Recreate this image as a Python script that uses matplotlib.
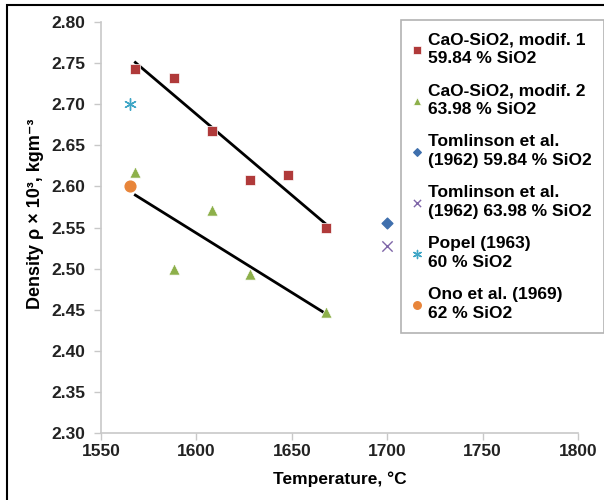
import matplotlib
matplotlib.use("Agg")
import matplotlib.pyplot as plt
import numpy as np
from matplotlib.patches import Rectangle

plt.rcParams['font.family'] = ['Liberation Sans', 'DejaVu Sans']

# Data
t_mod1 = [1568, 1588, 1608, 1628, 1648, 1668]
rho_mod1 = [2.743, 2.732, 2.667, 2.608, 2.614, 2.550]
t_mod2 = [1568, 1588, 1608, 1628, 1668]
rho_mod2 = [2.618, 2.500, 2.571, 2.493, 2.447]
t_tom1 = [1700]
rho_tom1 = [2.556]
t_tom2 = [1700]
rho_tom2 = [2.527]
t_popel = [1565]
rho_popel = [2.700]
t_ono = [1565]
rho_ono = [2.600]

labels = ["CaO-SiO2, modif. 1\n59.84 % SiO2",
          "CaO-SiO2, modif. 2\n63.98 % SiO2",
          "Tomlinson et al.\n(1962) 59.84 % SiO2",
          "Tomlinson et al.\n(1962) 63.98 % SiO2",
          "Popel (1963)\n60 % SiO2",
          "Ono et al. (1969)\n62 % SiO2"]
xticks = [1550, 1600, 1650, 1700, 1750, 1800]
yticks = [2.30, 2.35, 2.40, 2.45, 2.50, 2.55, 2.60, 2.65, 2.70, 2.75, 2.80]

fig = plt.figure(figsize=(6.04, 5.00), dpi=100)
ax = fig.add_axes([101/604, 1-433/500, (578-101)/604, (433-22)/500])

h1 = ax.scatter(t_mod1, rho_mod1, marker='s', s=60, color='#B03A3A', edgecolors='white', linewidths=0.5, zorder=3)
h2 = ax.scatter(t_mod2, rho_mod2, marker='^', s=65, color='#8DB04A', edgecolors='white', linewidths=0.5, zorder=3)
h3 = ax.scatter(t_tom1, rho_tom1, marker='D', s=30, color='#3F6FAD', zorder=3)
h4 = ax.scatter(t_tom2, rho_tom2, marker='x', s=55, color='#7F66A8', linewidths=1.0, zorder=3)
h5 = ax.scatter(t_popel, rho_popel, marker=(6, 2, 0), s=70, color='#3FA6C6', linewidths=1.0, zorder=3)
h6 = ax.scatter(t_ono, rho_ono, marker='o', s=60, color='#E8853A', zorder=3)

# linear trend lines
for tx, ry in [(t_mod1, rho_mod1), (t_mod2, rho_mod2)]:
    c = np.polyfit(tx, ry, 1)
    xs = np.array([min(tx), max(tx)])
    ax.plot(xs, np.polyval(c, xs), color='black', lw=2.0, zorder=2)

ax.set_xlim(1550, 1800)
ax.set_ylim(2.30, 2.80)
ax.set_xticks(xticks)
ax.set_yticks(yticks)
ax.set_xticklabels([str(v) for v in xticks], fontsize=12.5, fontweight='bold', color='#222222')
ax.set_yticklabels([f"{v:.2f}" for v in yticks], fontsize=12.5, fontweight='bold', color='#222222')
for s in ['top', 'right']:
    ax.spines[s].set_visible(False)
for s in ['left', 'bottom']:
    ax.spines[s].set_color('#C8C8C8')
    ax.spines[s].set_linewidth(1.2)
ax.tick_params(axis='x', color='#C8C8C8', length=5, width=1.0, direction='out', pad=3)
ax.tick_params(axis='y', color='#C8C8C8', length=5, width=1.0, direction='out', pad=6)

fig.text(340/604, 1-479/500, "Temperature, °C", fontsize=12.5, fontweight='bold',
         ha='center', va='center')
fig.text(36/604, 1-214/500, "Density ρ × 10³, kgm⁻³", fontsize=13, fontweight='bold',
         ha='center', va='center', rotation=90)

leg = fig.legend([h1, h2, h3, h4, h5, h6], labels,
                 loc='upper left', bbox_to_anchor=(401/604, 1-20/500),
                 bbox_transform=fig.transFigure, borderaxespad=0,
                 prop={'size': 12.5, 'weight': 'bold'}, frameon=True, fancybox=False,
                 handlelength=0.5, handletextpad=0.35, labelspacing=1.0,
                 markerscale=0.7, borderpad=0.7)
for t in leg.get_texts():
    t.set_linespacing(1.3)
leg.get_frame().set_edgecolor('#A0A0A0')
leg.get_frame().set_linewidth(1.2)

# outer border
fig.patches.append(Rectangle((7/604, -0.1), 1.2, 1 - 5/500 + 0.1, transform=fig.transFigure,
                             fill=False, edgecolor='black', linewidth=1.5))

fig.savefig("out.png", dpi=100)
